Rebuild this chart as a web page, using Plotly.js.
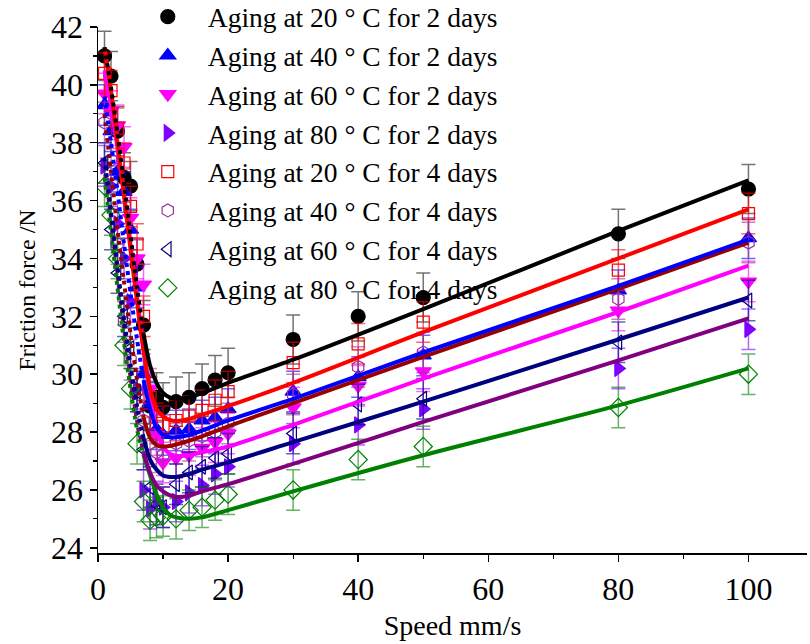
<!DOCTYPE html>
<html>
<head>
<meta charset="utf-8">
<script src="https://cdn.plot.ly/plotly-3.0.1.min.js"></script>
<style>html,body{margin:0;padding:0;background:#fff;}#chart{width:810px;height:644px;}</style>
</head>
<body>
<div id="chart"></div>
<script>
// Measured speeds (mm/s)
const speeds = [1,2,3,4,5,6,7,8,9,10,12,14,16,18,20,30,40,50,80,100];

// Measured friction force (N)
const f20_2d = [41.0,40.3,38.4,36.8,36.5,33.8,31.7,28.9,29.2,28.85,29.05,29.2,29.5,29.8,30.05,31.2,32.0,32.65,34.85,36.4];
const f40_2d = [39.3,38.4,37.0,36.3,35.0,33.0,30.0,29.0,28.1,27.9,28.05,28.1,28.4,28.5,28.8,29.4,29.9,30.65,32.9,34.7];
const f60_2d = [39.7,39.1,38.6,37.85,35.4,34.0,33.1,29.5,27.9,26.95,27.1,27.2,27.45,27.65,27.95,28.85,29.6,30.1,32.2,33.2];
const f80_2d = [37.2,36.5,35.2,34.0,32.5,29.5,26.0,25.35,25.6,25.4,25.6,25.9,26.15,26.55,26.8,27.6,28.25,28.8,30.2,31.55];
const f20_4d = [40.4,39.8,38.5,37.3,35.8,34.5,32.0,29.2,28.3,28.2,28.4,28.55,28.75,29.1,29.4,30.4,31.05,31.8,33.6,35.55];
const f40_4d = [38.7,37.4,34.5,31.8,30.5,29.4,28.4,27.6,27.3,27.2,27.6,27.7,27.85,28.0,28.3,29.3,30.25,30.75,32.6,34.55];
const f60_4d = [37.3,35.0,33.5,32.0,30.9,29.4,27.4,26.1,25.5,25.4,26.2,26.6,26.8,27.1,27.25,27.95,28.95,29.15,31.1,32.55];
const f80_4d = [36.5,35.5,34.0,31.0,29.5,27.6,25.6,24.95,25.05,25.1,25.0,25.3,25.4,25.65,25.85,26.0,27.05,27.5,28.85,30.0];

// Error bar half-widths (N)
const e20_2d = 0.85, e40_2d = 0.7, e60_2d = 0.7, e80_2d = 0.7;
const e20_4d = 0.7, e40_4d = 0.7, e60_4d = 0.7, e80_4d = 0.7;

// Fitted curves
const fitSpeeds = [1,2,3,4,5,6,7,8,9,10,11,12,14,16,20,30,50,80,100];
const fit20_2d = [41.3,39.9,38.3,36.6,34.8,33.0,31.4,30.3,29.7,29.35,29.2,29.15,29.2,29.35,29.7,30.5,32.25,34.95,36.7];
const fit20_4d = [41.3,39.8,38.0,36.2,34.3,32.5,30.8,29.5,28.8,28.55,28.42,28.38,28.45,28.6,28.9,29.7,31.45,34.0,35.7];
const fit40_2d = [39.6,38.0,36.3,34.5,32.8,31.2,29.8,28.8,28.15,27.9,27.82,27.82,27.9,28.05,28.4,29.15,30.75,33.05,34.65];
const fit40_4d = [39.0,37.0,35.0,33.2,31.4,29.8,28.5,27.8,27.55,27.5,27.52,27.57,27.7,27.85,28.2,29.0,30.6,32.95,34.55];
const fit60_2d = [40.5,39.3,37.8,36.2,34.5,32.7,30.9,29.3,28.1,27.5,27.25,27.18,27.2,27.3,27.5,28.25,29.85,32.15,33.75];
const fit60_4d = [37.5,35.6,33.7,31.9,30.3,28.9,27.8,27.05,26.7,26.5,26.45,26.45,26.55,26.7,26.95,27.65,29.05,31.2,32.65];
const fit80_2d = [37.2,35.4,33.5,31.6,29.9,28.4,27.3,26.6,26.15,25.95,25.82,25.76,25.8,25.95,26.2,26.9,28.35,30.48,31.93];
const fit80_4d = [36.8,34.9,33.0,31.1,29.5,28.1,27.2,26.5,25.85,25.4,25.15,25.05,25.0,25.05,25.3,25.95,27.2,28.92,30.2];

const names = [
  'Aging at 20 ° C for 2 days','Aging at 40 ° C for 2 days','Aging at 60 ° C for 2 days','Aging at 80 ° C for 2 days',
  'Aging at 20 ° C for 4 days','Aging at 40 ° C for 4 days','Aging at 60 ° C for 4 days','Aging at 80 ° C for 4 days'
];

const FONT = 'Liberation Serif, Times New Roman, serif';
const traces = [];

function fitTrace(y, color, dottedLow){
  const split = 6; // index of v=7
  if (dottedLow){
    traces.push({x: fitSpeeds.slice(0, split+1), y: y.slice(0, split+1), mode:'lines', showlegend:false, hoverinfo:'skip',
      line:{color: color, width: 4, dash: 'dot', shape:'spline', smoothing: 0.8}});
    traces.push({x: fitSpeeds.slice(split), y: y.slice(split), mode:'lines', showlegend:false, hoverinfo:'skip',
      line:{color: color, width: 4, shape:'spline', smoothing: 0.8}});
  } else {
    traces.push({x: fitSpeeds, y: y, mode:'lines', showlegend:false, hoverinfo:'skip',
      line:{color: color, width: 4, shape:'spline', smoothing: 0.8}});
  }
}

function dataTrace(y, err, name, symbol, color, barColor, size){
  traces.push({x: speeds, y: y, name: name, mode:'markers', type:'scatter',
    marker:{symbol: symbol, color: color, size: size, line:{color: color, width: 1.2}},
    error_y:{type:'constant', value: err, visible:true, color: barColor, thickness: 1.5, width: 7}});
}

dataTrace(f20_2d, e20_2d, names[0], 'circle', '#000000', 'rgba(0,0,0,0.55)', 14);
dataTrace(f40_2d, e40_2d, names[1], 'triangle-up', '#0000FF', 'rgba(0,0,255,0.6)', 14);
dataTrace(f60_2d, e60_2d, names[2], 'triangle-down', '#FF00FF', 'rgba(255,0,255,0.6)', 14);
dataTrace(f80_2d, e80_2d, names[3], 'triangle-right', '#8000FF', 'rgba(128,0,255,0.6)', 14);
dataTrace(f20_4d, e20_4d, names[4], 'square-open', '#FF0000', 'rgba(255,0,0,0.6)', 12);
dataTrace(f40_4d, e40_4d, names[5], 'hexagon-open', '#993399', 'rgba(153,51,153,0.6)', 13);
dataTrace(f60_4d, e60_4d, names[6], 'triangle-left-open', '#000080', 'rgba(0,0,128,0.6)', 13);
dataTrace(f80_4d, e80_4d, names[7], 'diamond-open', '#008000', 'rgba(0,128,0,0.6)', 14);

fitTrace(fit80_4d, '#008000', true);
fitTrace(fit80_2d, '#800080', true);
fitTrace(fit60_4d, '#000080', true);
fitTrace(fit60_2d, '#FF00FF', false);
fitTrace(fit40_4d, '#990000', true);
fitTrace(fit40_2d, '#0000FF', true);
fitTrace(fit20_4d, '#FF0000', false);
fitTrace(fit20_2d, '#000000', true);

const layout = {
  width: 810, height: 644,
  margin: {l: 98, r: 3, t: 27, b: 91, autoexpand: false},
  paper_bgcolor: '#fff', plot_bgcolor: '#fff',
  font: {family: FONT, color: '#000', size: 27},
  showlegend: true,
  legend: {x: 0.042, y: 1.066, xanchor: 'left', yanchor: 'top', bgcolor: 'rgba(0,0,0,0)',
    font: {family: FONT, size: 27.5, color: '#000'}, traceorder: 'normal', itemsizing: 'trace', itemwidth: 70},
  xaxis: {
    range: [0, 109], showgrid: false, zeroline: false, showline: true, linecolor: '#000', linewidth: 1.5,
    ticks: 'outside', ticklen: 7, tickwidth: 1.5, tickcolor: '#000', dtick: 20, tick0: 0,
    minor: {ticks: 'outside', ticklen: 4, dtick: 10, tickcolor: '#000', tickwidth: 1.2},
    tickfont: {family: FONT, size: 32, color: '#000'},
    title: {text: 'Speed mm/s', font: {family: FONT, size: 28, color: '#000'}, standoff: 9}
  },
  yaxis: {
    range: [23.82, 42], showgrid: false, zeroline: false, showline: true, linecolor: '#000', linewidth: 1.5,
    ticks: 'outside', ticklen: 7, tickwidth: 1.5, tickcolor: '#000', dtick: 2, tick0: 24,
    minor: {ticks: 'outside', ticklen: 4, dtick: 1, tickcolor: '#000', tickwidth: 1.2},
    tickfont: {family: FONT, size: 32, color: '#000'},
    title: {text: 'Friction force /N', font: {family: FONT, size: 24, color: '#000'}, standoff: 8}
  }
};

Plotly.newPlot('chart', traces, layout, {displayModeBar: false, staticPlot: true});
</script>
</body>
</html>
